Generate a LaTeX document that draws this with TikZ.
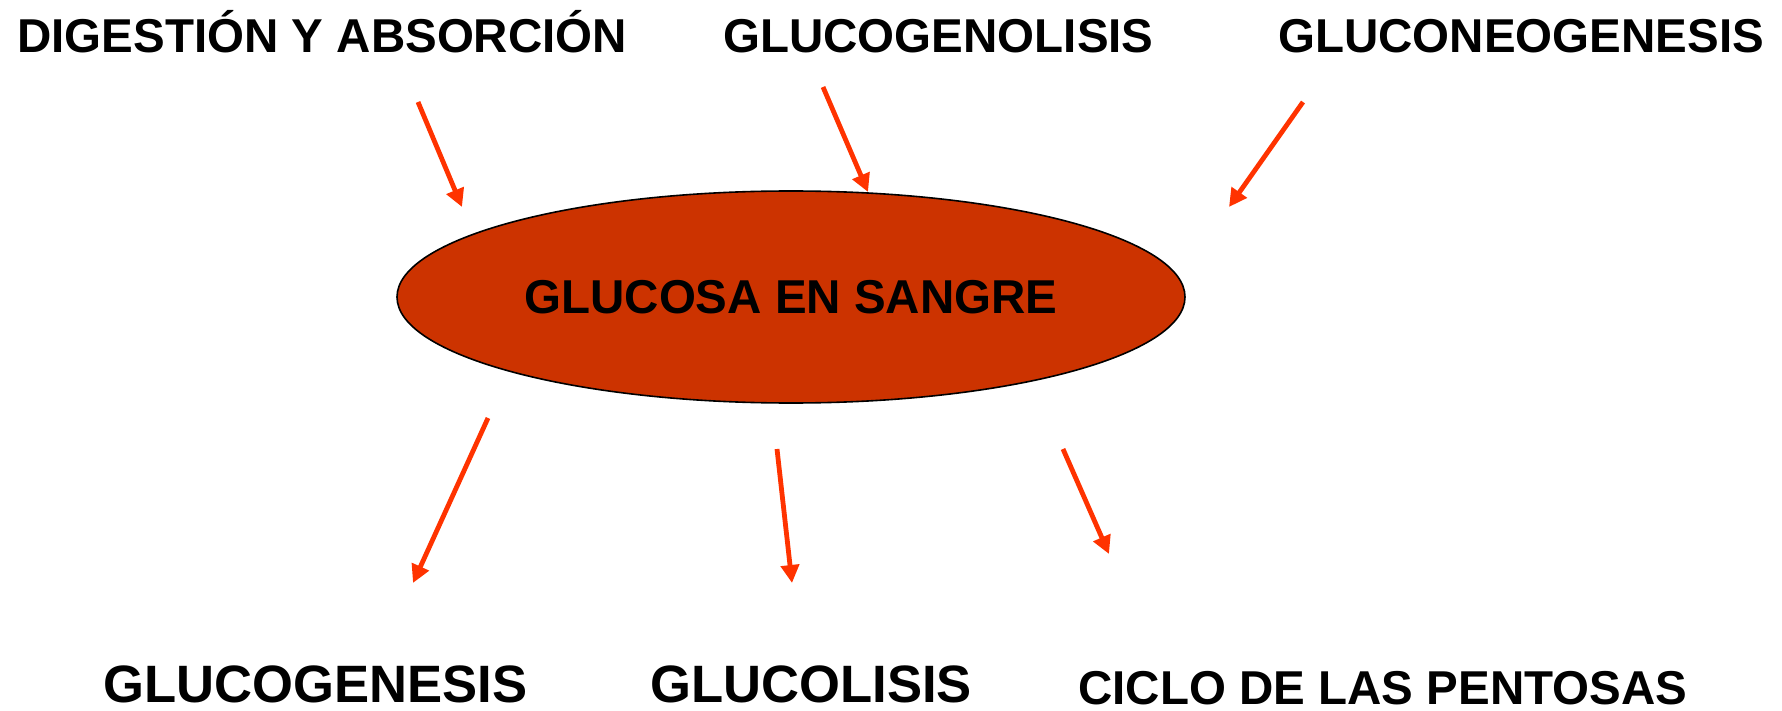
\documentclass[tikz,border=0pt]{standalone}
\usepackage{fontspec}
\setmainfont{Liberation Sans}
\usetikzlibrary{shapes.geometric, arrows.meta, calc}
\definecolor{blood}{HTML}{CC3300}
\definecolor{flow}{HTML}{FF3300}
\tikzset{
  term/.style    = {inner sep=0pt, anchor=base west,
                    font=\bfseries\fontsize{23.75}{28}\selectfont},
  bigterm/.style = {term, font=\bfseries\fontsize{26.3}{30}\selectfont},
  pool/.style    = {ellipse, draw=black, line width=0.8pt, fill=blood,
                    minimum width=394pt, minimum height=106pt, inner sep=0pt,
                    font=\bfseries\fontsize{23.75}{28}\selectfont},
  ->/.style      = {draw=flow, line width=2.4pt, -{Triangle[length=9pt,width=9pt]}}
}

\begin{document}
\begin{tikzpicture}[x=0.5pt, y=-0.5pt]
\useasboundingbox (0,0) rectangle (1782,711);

% Central pool
\node[pool] at (791, 297) (sangre) {GLUCOSA EN SANGRE};

% Sources
\node[term] at (17, 53) (digest) {DIGESTIÓN Y ABSORCIÓN};
\node[term] at (723, 53) (glucogenolisis) {GLUCOGENOLISIS};
\node[term] at (1278, 53) (gluconeo) {GLUCONEOGENESIS};

% Fates
\node[bigterm] at (103, 702) (glucogenesis) {GLUCOGENESIS};
\node[bigterm] at (650, 702) (glucolisis) {GLUCOLISIS};
\node[term] at (1078, 704) (pentosas) {CICLO DE LAS PENTOSAS};

% Arrow ends
\coordinate (in1a) at (418, 102);
\coordinate (in1b) at (462, 207);
\coordinate (in2a) at (823, 87);
\coordinate (in2b) at (868, 192);
\coordinate (in3a) at (1303, 102);
\coordinate (in3b) at (1229, 207);
\coordinate (out1a) at (488, 418);
\coordinate (out1b) at (413, 583);
\coordinate (out2a) at (777, 449);
\coordinate (out2b) at (792, 583);
\coordinate (out3a) at (1063, 449);
\coordinate (out3b) at (1109, 554);

\draw[->] (in1a) -- (in1b);
\draw[->] (in2a) -- (in2b);
\draw[->] (in3a) -- (in3b);

\draw[->] (out1a) -- (out1b);
\draw[->] (out2a) -- (out2b);
\draw[->] (out3a) -- (out3b);

\end{tikzpicture}
\end{document}
